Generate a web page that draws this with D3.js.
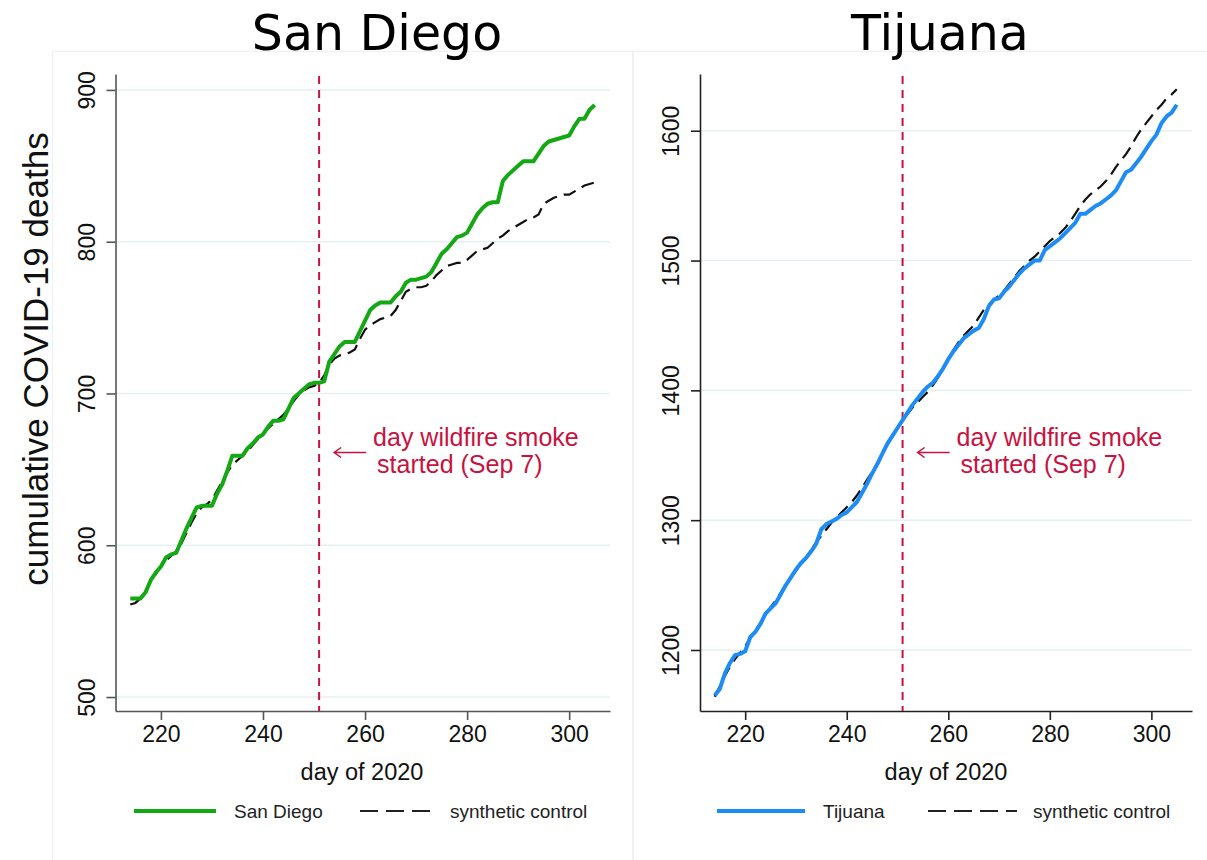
<!DOCTYPE html>
<html>
<head>
<meta charset="utf-8">
<script src="https://cdn.jsdelivr.net/npm/d3@7"></script>
<style>
  body { margin: 0; background: #fff; }
  svg { display: block; }
</style>
</head>
<body>
<svg id="chart" width="1207" height="860"></svg>
<script>
// days 214..305 of 2020
var days = d3.range(214, 306);

var sanDiego = [565, 565, 565, 569, 577, 582, 586, 592, 594, 595,
  603, 611, 618, 625, 626, 626, 626, 634, 640, 649,
  659, 659, 659, 664, 667, 671, 673, 678, 682, 682,
  683, 690, 697, 700, 703, 706, 707, 707, 708, 721,
  726, 731, 734, 734, 734, 741, 748, 755, 758, 760,
  760, 760, 764, 767, 773, 775, 775, 776, 777, 780,
  786, 792, 795, 799, 803, 804, 806, 812, 818, 822,
  825, 826, 826, 840, 844, 847, 850, 853, 853, 853,
  858, 863, 866, 867, 868, 869, 870, 876, 881, 881,
  887, 890];

var sanDiegoSynth = [561, 562, 565, 570, 576, 581, 586, 590, 593, 596,
  601, 608, 615, 621, 625, 627, 630, 636, 642, 648,
  653, 656, 659, 662, 666, 670, 673, 677, 680, 683,
  686, 690, 695, 699, 702, 704, 705, 707, 712, 719,
  723, 725, 726, 727, 729, 736, 742, 745, 747, 749,
  750, 751, 755, 761, 767, 769, 770, 770, 771, 774,
  778, 781, 784, 785, 786, 786, 788, 791, 794, 795,
  796, 799, 802, 804, 807, 809, 811, 813, 815, 816,
  818, 825, 827, 829, 830, 831, 831, 833, 835, 837,
  838, 839];

var tijuana = [1165, 1170, 1182, 1190, 1196, 1197, 1199, 1210, 1214, 1220,
  1228, 1232, 1236, 1243, 1250, 1256, 1262, 1267, 1271, 1276,
  1282, 1293, 1297, 1299, 1301, 1304, 1306, 1310, 1314, 1321,
  1328, 1336, 1343, 1351, 1359, 1365, 1371, 1377, 1383, 1389,
  1394, 1399, 1403, 1406, 1411, 1417, 1424, 1430, 1435, 1440,
  1443, 1446, 1448, 1455, 1465, 1470, 1471, 1476, 1480, 1485,
  1490, 1494, 1497, 1500, 1500, 1508, 1511, 1514, 1517, 1521,
  1525, 1529, 1536, 1536, 1539, 1542, 1544, 1547, 1550, 1554,
  1561, 1568, 1570, 1575, 1580, 1586, 1592, 1597, 1606, 1611,
  1614, 1620];

var tijuanaSynth = [1164, 1172, 1180, 1187, 1193, 1198, 1203, 1209, 1215, 1221,
  1227, 1233, 1238, 1244, 1250, 1256, 1261, 1266, 1271, 1277,
  1283, 1288, 1293, 1298, 1302, 1306, 1310, 1314, 1319, 1325,
  1331, 1337, 1344, 1351, 1358, 1365, 1371, 1377, 1382, 1387,
  1391, 1395, 1399, 1404, 1410, 1417, 1424, 1431, 1437, 1442,
  1446, 1450, 1456, 1462, 1466, 1470, 1473, 1477, 1482, 1487,
  1492, 1496, 1500, 1503, 1507, 1511, 1515, 1518, 1521, 1525,
  1530, 1536, 1542, 1547, 1551, 1554, 1557, 1561, 1566, 1572,
  1577, 1582, 1588, 1595, 1601, 1606, 1611, 1616, 1620, 1625,
  1628, 1632];

var xTicks = [220, 240, 260, 280, 300];
var sdTicks = [500, 600, 700, 800, 900];
var tjTicks = [1200, 1300, 1400, 1500, 1600];
var smokeDay = 251;
var noteLines = ['day wildfire smoke', 'started (Sep 7)'];

var sans = '"Liberation Sans", Arial, sans-serif';
var red = '#c8123f';
var svg = d3.select('#chart');

// faint panel frames
svg.append('rect').attr('x', 52.5).attr('y', 51.5).attr('width', 580).attr('height', 840)
  .attr('fill', 'none').attr('stroke', '#f0f0f0');
svg.append('rect').attr('x', 633.5).attr('y', 51.5).attr('width', 600).attr('height', 840)
  .attr('fill', 'none').attr('stroke', '#f0f0f0');

function drawPanel(p) {
  var g = svg.append('g');
  var x = d3.scaleLinear().domain([211.1, 308]).range([p.left, p.right]);
  var y = d3.scaleLinear().domain(p.yDomain).range([711, 74]);

  // title
  g.append('text').attr('x', p.titleX).attr('y', 50)
    .attr('text-anchor', 'middle')
    .style('font-family', '"DejaVu Sans", sans-serif').style('font-size', '49px')
    .attr('fill', '#000').text(p.title);

  // gridlines
  g.selectAll('line.grid').data(p.yTicks).enter().append('line')
    .attr('class', 'grid')
    .attr('x1', p.left).attr('x2', p.right)
    .attr('y1', function(d) { return y(d); }).attr('y2', function(d) { return y(d); })
    .attr('stroke', '#e6eff1').attr('stroke-width', 1.5);

  // y axis
  var ya = g.append('g').attr('transform', 'translate(' + p.left + ',0)')
    .call(d3.axisLeft(y).tickValues(p.yTicks).tickSize(9).tickSizeOuter(0).tickFormat(d3.format('d')));
  ya.select('.domain').attr('stroke', p.axisColor).attr('stroke-width', 1.6);
  ya.selectAll('.tick line').attr('stroke', p.axisColor).attr('stroke-width', 1.6);
  ya.selectAll('.tick text')
    .attr('x', null).attr('dy', null)
    .attr('transform', 'translate(-29,0) rotate(-90)')
    .attr('text-anchor', 'middle').attr('dy', '0.35em')
    .style('font-family', sans).style('font-size', '23px').attr('fill', '#111');

  // x axis
  var xa = g.append('g').attr('transform', 'translate(0,711)')
    .call(d3.axisBottom(x).tickValues(xTicks).tickSize(9).tickSizeOuter(0));
  xa.select('.domain').attr('stroke', p.axisColor).attr('stroke-width', 1.6);
  xa.selectAll('.tick line').attr('stroke', p.axisColor).attr('stroke-width', 1.6);
  xa.selectAll('.tick text').attr('y', 15).attr('dy', '0.71em')
    .style('font-family', sans).style('font-size', '23px').attr('fill', '#111');

  g.append('text').attr('x', p.xTitleX).attr('y', 780)
    .attr('text-anchor', 'middle')
    .style('font-family', sans).style('font-size', '23.5px')
    .attr('fill', '#111').text('day of 2020');

  // smoke start line
  g.append('line')
    .attr('x1', x(smokeDay)).attr('x2', x(smokeDay))
    .attr('y1', 76).attr('y2', 711)
    .attr('stroke', red).attr('stroke-width', 2).attr('stroke-dasharray', '8,6');

  var line = d3.line()
    .x(function(d, i) { return x(days[i]); })
    .y(function(d) { return y(d); });

  g.append('path').datum(p.synth)
    .attr('d', line).attr('fill', 'none')
    .attr('stroke', '#111').attr('stroke-width', 2.2)
    .attr('stroke-dasharray', '13,7');

  g.append('path').datum(p.actual)
    .attr('d', line).attr('fill', 'none')
    .attr('stroke', p.color).attr('stroke-width', 4)
    .attr('stroke-linejoin', 'round');

  // annotation
  var ax = x(smokeDay);
  g.append('path')
    .attr('d', 'M' + (ax + 47) + ',452.5H' + (ax + 15) + 'M' + (ax + 22) + ',447.5L' + (ax + 15) + ',452.5L' + (ax + 22) + ',457.5')
    .attr('fill', 'none').attr('stroke', red).attr('stroke-width', 1.5);
  g.selectAll('text.note').data(noteLines).enter().append('text')
    .attr('class', 'note')
    .attr('x', function(d, i) { return ax + 54 + i * 4; })
    .attr('y', function(d, i) { return 446 + i * 27; })
    .style('font-family', sans).style('font-size', '25px')
    .attr('fill', red).text(function(d) { return d; });

  // legend
  var lg = g.append('g').attr('transform', 'translate(' + p.legendX + ',811)');
  lg.append('line').attr('x1', 0).attr('x2', p.legendW)
    .attr('stroke', p.color).attr('stroke-width', 4);
  lg.append('text').attr('x', p.legendW + 18).attr('y', 7)
    .style('font-family', sans).style('font-size', '19px').attr('fill', '#222')
    .text(p.title);
  lg.append('line').attr('x1', p.dashX).attr('x2', p.dashX + p.dashW)
    .attr('stroke', '#222').attr('stroke-width', 2).attr('stroke-dasharray', '18,8');
  lg.append('text').attr('x', p.dashX + p.dashW + 16).attr('y', 7)
    .style('font-family', sans).style('font-size', '19px').attr('fill', '#222')
    .text('synthetic control');
}

drawPanel({
  title: 'San Diego', titleX: 377, left: 115.5, right: 610, xTitleX: 362,
  yDomain: [490.8, 910.5], yTicks: sdTicks, axisColor: '#555',
  actual: sanDiego, synth: sanDiegoSynth, color: '#14a814',
  legendX: 134, legendW: 82, dashX: 226, dashW: 74
});

drawPanel({
  title: 'Tijuana', titleX: 940, left: 700, right: 1192, xTitleX: 946,
  yDomain: [1153, 1643.7], yTicks: tjTicks, axisColor: '#222',
  actual: tijuana, synth: tijuanaSynth, color: '#1e8cf5',
  legendX: 717, legendW: 88, dashX: 211, dashW: 89
});

// shared y title
svg.append('text')
  .attr('transform', 'translate(48,359) rotate(-90)')
  .attr('text-anchor', 'middle')
  .style('font-family', sans).style('font-size', '35px')
  .attr('fill', '#111').text('cumulative COVID-19 deaths');
</script>
</body>
</html>
